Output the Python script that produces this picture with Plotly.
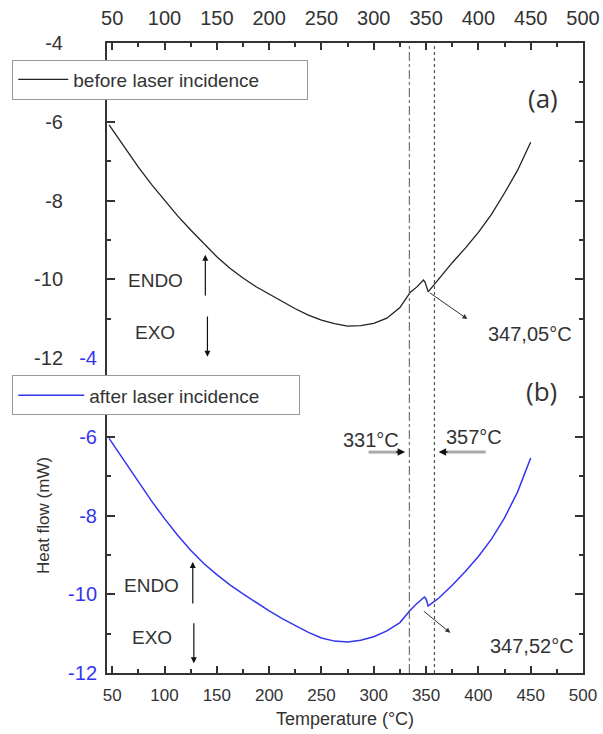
import plotly.graph_objects as go

# ---- data ----
# (a) before laser incidence
temp_a = [47, 62.5, 75, 87.5, 100, 112.5, 125, 137.5, 150, 162.5, 175, 187.5, 200, 212.5,
          225, 237.5, 250, 262.5, 275, 287.5, 300, 312.5, 325, 335, 341, 347.5, 349, 352,
          356, 362.5, 375, 387.5, 400, 412.5, 425, 437.5, 450]
flow_a = [-6.08, -6.68, -7.15, -7.59, -8.0, -8.39, -8.75, -9.10, -9.43, -9.72, -9.97,
          -10.19, -10.38, -10.57, -10.75, -10.91, -11.04, -11.13, -11.19, -11.18, -11.12,
          -10.99, -10.72, -10.33, -10.20, -10.02, -10.07, -10.32, -10.19, -9.99, -9.58,
          -9.21, -8.81, -8.35, -7.81, -7.23, -6.52]
# (b) after laser incidence
temp_b = [47, 62.5, 75, 87.5, 100, 112.5, 125, 137.5, 150, 162.5, 175, 187.5, 200, 212.5,
          225, 237.5, 250, 262.5, 275, 287.5, 300, 312.5, 325, 335, 341, 348.4, 350, 352,
          356, 362.5, 375, 387.5, 400, 412.5, 425, 437.5, 450]
flow_b = [-6.04, -6.64, -7.13, -7.63, -8.08, -8.50, -8.88, -9.22, -9.50, -9.76, -9.99,
          -10.21, -10.42, -10.62, -10.80, -10.97, -11.11, -11.19, -11.21, -11.17, -11.08,
          -10.93, -10.72, -10.40, -10.24, -10.07, -10.12, -10.30, -10.22, -10.09, -9.77,
          -9.42, -9.04, -8.60, -8.06, -7.40, -6.54]

x_ticks = [50, 100, 150, 200, 250, 300, 350, 400, 450, 500]
y_ticks = [-12, -10, -8, -6, -4]
y_tick_text = ["-12", "-10", "-8", "-6", "-4"]
series_names = ["before laser incidence", "after laser incidence"]
marker_lines_T = [334, 358]          # onset (dash-dot) and end (dotted) lines
marker_labels = ["331°C", "357°C"]
peak_labels = ["347,05°C", "347,52°C"]
panel_labels = ["(a)", "(b)"]

FONT = "Liberation Sans, Arial, sans-serif"
BLUE = "#3535f0"
DARK = "#333333"

fig = go.Figure()
fig.add_trace(go.Scatter(x=temp_a, y=flow_a, mode="lines", name=series_names[0],
                         line=dict(color="#222222", width=1.3),
                         xaxis="x", yaxis="y", legend="legend"))
fig.add_trace(go.Scatter(x=temp_b, y=flow_b, mode="lines", name=series_names[1],
                         line=dict(color=BLUE, width=1.5),
                         xaxis="x2", yaxis="y2", legend="legend2"))

common_x = dict(range=[45, 500], tickvals=x_ticks, ticks="inside", ticklen=7, tickwidth=1.5,
                tickcolor="#333", showline=True, linecolor="#333", linewidth=2,
                showgrid=False, zeroline=False, automargin=False,
                minor=dict(ticks="inside", dtick=25, tick0=25, ticklen=4, tickcolor="#333"))
common_y = dict(range=[-12, -4], tickvals=y_ticks, ticktext=y_tick_text, ticks="inside",
                ticklen=8, tickwidth=1.5, tickcolor="#333", showline=True, linecolor="#333",
                linewidth=2, mirror="allticks", showgrid=False, zeroline=False, automargin=False,
                minor=dict(ticks="inside", dtick=1, tick0=-12, ticklen=4, tickcolor="#333"))

fig.update_layout(
    width=603, height=734,
    margin=dict(l=107, r=20, t=43, b=61, autoexpand=False),
    paper_bgcolor="white", plot_bgcolor="white",
    font=dict(family=FONT, color=DARK),
    xaxis=dict(**common_x, anchor="y", side="top", ticklabelstandoff=8,
               tickfont=dict(size=20, color=DARK)),
    xaxis2=dict(**common_x, anchor="y2", side="bottom", matches="x", ticklabelstandoff=6,
                tickfont=dict(size=17, color=DARK),
                title=dict(text="Temperature (°C)", font=dict(size=18, color=DARK), standoff=8)),
    yaxis=dict(**common_y, domain=[0.5, 1], anchor="x", ticklabelstandoff=38,
               tickfont=dict(size=20, color=DARK)),
    yaxis2=dict(**common_y, domain=[0, 0.5], anchor="x2", ticklabelstandoff=4,
                tickfont=dict(size=20, color=BLUE),
                title=dict(text="Heat flow (mW)", font=dict(size=17, color=DARK), standoff=14)),
    legend=dict(x=-0.199, y=0.942, xanchor="left", yanchor="middle", orientation="h",
                bgcolor="white", bordercolor="#999", borderwidth=1, itemwidth=50,
                font=dict(size=19, color=DARK), entrywidth=229, tracegroupgap=0),
    legend2=dict(x=-0.199, y=0.4405, xanchor="left", yanchor="middle", orientation="h",
                 bgcolor="white", bordercolor="#999", borderwidth=1, itemwidth=66,
                 font=dict(size=19, color=DARK), entrywidth=205, tracegroupgap=0),
    showlegend=True,
)

# vertical marker lines through both panels
fig.add_shape(type="line", xref="x", yref="paper", x0=marker_lines_T[0], x1=marker_lines_T[0],
              y0=0, y1=1, line=dict(color="#555", width=1, dash="dashdot"))
fig.add_shape(type="line", xref="x", yref="paper", x0=marker_lines_T[1], x1=marker_lines_T[1],
              y0=0, y1=1, line=dict(color="#555", width=1.2, dash="dot"))

ann = []
def arrow(xref, yref, x0, y0, x1, y1, color="#111", width=1.2, head=2, size=1.0):
    ann.append(dict(x=x1, y=y1, ax=x0, ay=y0, xref=xref, yref=yref, axref=xref, ayref=yref,
                    text="", showarrow=True, arrowhead=head, arrowsize=size,
                    arrowwidth=width, arrowcolor=color))

def label(xref, yref, x, y, text, size=19, family=FONT, color=DARK):
    ann.append(dict(x=x, y=y, xref=xref, yref=yref, text=text, showarrow=False,
                    font=dict(size=size, family=family, color=color),
                    xanchor="center", yanchor="middle"))

# panel (a)
label("x", "y", 91, -10.02, "ENDO")
label("x", "y", 91, -11.34, "EXO")
arrow("x", "y", 139, -10.45, 139, -9.38)
arrow("x", "y", 141, -10.91, 141, -11.97)
label("x", "y", 462, -5.40, panel_labels[0], size=26, family="Open Sans, sans-serif")
arrow("x", "y", 352.2, -10.32, 389.5, -11.01, color="#333", width=1)
label("x", "y", 449, -11.39, peak_labels[0], size=20)

# panel (b)
label("x2", "y2", 88, -9.77, "ENDO")
label("x2", "y2", 88, -11.09, "EXO")
arrow("x2", "y2", 127, -10.27, 127, -9.18)
arrow("x2", "y2", 128, -10.70, 128, -11.75)
label("x2", "y2", 460, -4.84, panel_labels[1], size=26, family="Open Sans, sans-serif")
arrow("x2", "y2", 346.4, -10.40, 373.2, -10.98, color="#333", width=1)
label("x2", "y2", 451, -11.31, peak_labels[1], size=20)

# onset / end markers
label("x2", "y2", 297.6, -6.08, marker_labels[0], size=20)
label("x2", "y2", 396, -6.0, marker_labels[1], size=20)
fig.add_shape(type="line", xref="x2", yref="y2", x0=295, x1=324, y0=-6.39, y1=-6.39,
              line=dict(color="#aaaaaa", width=3))
fig.add_shape(type="line", xref="x2", yref="y2", x0=370, x1=407, y0=-6.39, y1=-6.39,
              line=dict(color="#aaaaaa", width=3))
arrow("x2", "y2", 320, -6.39, 330, -6.39, color="#111", width=1.5)
arrow("x2", "y2", 372, -6.39, 362, -6.39, color="#111", width=1.5)

fig.update_layout(annotations=ann)
fig.write_html("out.html",
               config={"displayModeBar": False},
               post_script="document.body.style.margin='0';"
                           "document.documentElement.style.overflow='hidden';"
                           "document.body.style.overflow='hidden';")
